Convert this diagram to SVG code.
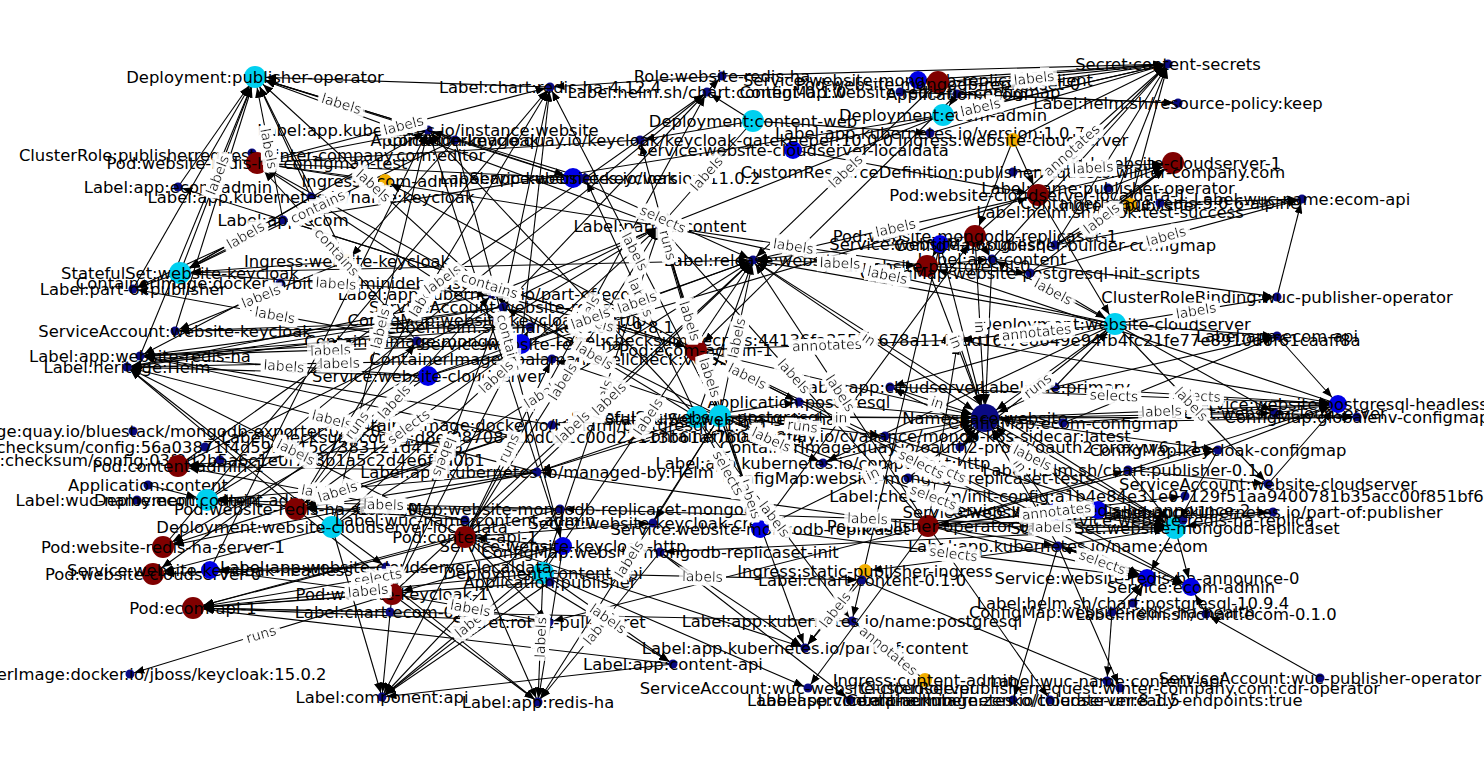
<svg xmlns="http://www.w3.org/2000/svg" width="1484" height="768" viewBox="0 0 1484 768">
<style>
.bg{fill:#fff}
.c path{stroke:#000;stroke-width:1.1;fill:none}
.ep path{marker-end:url(#mP)}
.es path{marker-end:url(#mS)}
.el path{marker-end:url(#mL)}
.ei path{marker-end:url(#mI)}
.eh path{marker-end:url(#mH)}
.pod{fill:#800000}
.dep{fill:#00d0f0}
.svc{fill:#0000e6}
.lbl{fill:#0a0a84}
.ing{fill:#f2ae00}
.hub{fill:#0a0a84}
.nt{font-family:"DejaVu Sans","Liberation Sans",sans-serif;font-size:16.4px;text-anchor:middle;dominant-baseline:central;fill:#000}
.lb{font-family:"DejaVu Sans","Liberation Sans",sans-serif;font-size:13.9px;fill:#222;text-anchor:middle;dominant-baseline:central;filter:url(#halo)}
</style>
<defs>
<filter id="halo" filterUnits="userSpaceOnUse" x="0" y="0" width="1484" height="768"><feMorphology in="SourceAlpha" operator="dilate" radius="4" result="d"/><feFlood flood-color="#ffffff"/><feComposite in2="d" operator="in" result="w"/><feMerge><feMergeNode in="w"/><feMergeNode in="SourceGraphic"/></feMerge></filter>
<marker id="mP" viewBox="0 0 10 8" refX="21" refY="4" markerWidth="10" markerHeight="8" markerUnits="userSpaceOnUse" orient="auto"><path d="M0,0L10,4L0,8z" fill="#000"/></marker>
<marker id="mS" viewBox="0 0 10 8" refX="19" refY="4" markerWidth="10" markerHeight="8" markerUnits="userSpaceOnUse" orient="auto"><path d="M0,0L10,4L0,8z" fill="#000"/></marker>
<marker id="mL" viewBox="0 0 10 8" refX="14.5" refY="4" markerWidth="10" markerHeight="8" markerUnits="userSpaceOnUse" orient="auto"><path d="M0,0L10,4L0,8z" fill="#000"/></marker>
<marker id="mI" viewBox="0 0 10 8" refX="17" refY="4" markerWidth="10" markerHeight="8" markerUnits="userSpaceOnUse" orient="auto"><path d="M0,0L10,4L0,8z" fill="#000"/></marker>
<marker id="mH" viewBox="0 0 10 8" refX="24" refY="4" markerWidth="10" markerHeight="8" markerUnits="userSpaceOnUse" orient="auto"><path d="M0,0L10,4L0,8z" fill="#000"/></marker>
<path id="l1" d="M255,77L428,130"/><path id="l2" d="M180,273L255,77"/><path id="l3" d="M255,77L283,220"/><path id="l4" d="M255,77L492,294"/><path id="l5" d="M180,273L311,197"/><path id="l6" d="M180,273L455,140"/><path id="l7" d="M257,163L417,341"/><path id="l8" d="M175,331L347,261"/><path id="l9" d="M140,356L521,344"/><path id="l10" d="M127,367L537,472"/><path id="l11" d="M127,367L465,537"/><path id="l12" d="M178,466L465,520"/><path id="l13" d="M207,500L560,509"/><path id="l14" d="M163,547L512,436"/><path id="l15" d="M193,608L563,546"/><path id="l16" d="M193,608L543,573"/><path id="l17" d="M130,674L392,594"/><path id="l18" d="M382,697L563,546"/><path id="l19" d="M538,702L543,573"/><path id="l20" d="M538,702L660,552"/><path id="l21" d="M543,573L673,664"/><path id="l22" d="M805,648L865,571"/><path id="l23" d="M852,621L925,680"/><path id="l24" d="M550,87L720,416"/><path id="l25" d="M296,509L550,87"/><path id="l26" d="M660,226L753,121"/><path id="l27" d="M720,416L753,260"/><path id="l28" d="M332,527L753,260"/><path id="l29" d="M492,294L696,350"/><path id="l30" d="M696,350L958,340"/><path id="l31" d="M696,350L799,402"/><path id="l32" d="M890,387L985,418"/><path id="l33" d="M697,417L985,418"/><path id="l34" d="M975,236L985,418"/><path id="l35" d="M753,260L985,418"/><path id="l36" d="M985,418L1055,512"/><path id="l37" d="M760,529L985,418"/><path id="l38" d="M753,260L927,266"/><path id="l39" d="M992,259L1115,324"/><path id="l40" d="M958,340L1115,324"/><path id="l41" d="M1055,387L1338,404"/><path id="l42" d="M890,387L1338,404"/><path id="l43" d="M1030,273L1302,199"/><path id="l44" d="M793,150L1168,64"/><path id="l45" d="M975,236L1168,64"/><path id="l46" d="M1013,172L1173,163"/><path id="l47" d="M928,526L1175,528"/><path id="l48" d="M1058,546L1147,578"/><path id="l49" d="M760,529L1147,578"/><path id="l50" d="M696,350L1191,587"/><path id="l51" d="M696,350L805,648"/><path id="l52" d="M697,417L852,621"/><path id="l53" d="M543,573L862,580"/><path id="l54" d="M573,178L753,260"/><path id="l55" d="M585,178L697,417"/><path id="l56" d="M332,527L428,130"/><path id="l57" d="M296,509L521,344"/><path id="l58" d="M455,140L563,546"/><path id="l59" d="M257,163L550,87"/><path id="l60" d="M178,466L707,92"/><path id="l61" d="M465,537L660,226"/><path id="l62" d="M720,416L823,463"/><path id="l63" d="M928,526L1185,496"/><path id="l64" d="M927,266L985,418"/><path id="l66" d="M1115,324L1277,297"/><path id="l67" d="M900,92L1168,64"/><path id="l68" d="M140,356L428,376"/><path id="l69" d="M127,367L552,359"/><path id="l70" d="M133,289L417,341"/><path id="l71" d="M560,509L1175,528"/><path id="l72" d="M720,416L1147,578"/><path id="l73" d="M985,418L1338,404"/><path id="l74" d="M538,702L720,416"/><path id="l75" d="M392,594L549,622"/><path id="l76" d="M697,417L760,529"/><path id="l77" d="M283,220L696,350"/><path id="l78" d="M497,320L392,594"/><path id="l80" d="M465,537L707,92"/><path id="l81" d="M543,573L660,226"/><path id="l82" d="M696,350L1147,578"/><path id="l83" d="M1030,273L1173,163"/><path id="l84" d="M1115,324L1268,484"/>
<path id="l85" d="M296,509L492,294"/><path id="l86" d="M332,527L660,226"/><path id="l87" d="M465,537L753,260"/><path id="l88" d="M543,573L753,260"/><path id="l89" d="M392,594L753,260"/><path id="l90" d="M660,226L720,416"/><path id="l91" d="M492,294L697,417"/><path id="l93" d="M660,226L927,266"/><path id="l94" d="M753,260L928,526"/><path id="l95" d="M660,226L760,529"/><path id="l96" d="M660,226L1115,324"/><path id="l97" d="M753,260L938,82"/><path id="l98" d="M753,260L1038,195"/><path id="l99" d="M180,273L492,294"/><path id="l100" d="M521,344L753,260"/><path id="l101" d="M428,376L753,260"/><path id="l102" d="M890,387L1175,528"/><path id="l103" d="M660,226L928,526"/><path id="l104" d="M720,416L885,436"/><path id="l105" d="M960,447L1115,324"/><path id="l106" d="M296,509L417,341"/><path id="l107" d="M465,537L552,359"/><path id="l108" d="M640,140L696,350"/>
</defs>
<rect class="bg" x="0" y="0" width="1484" height="768"/>
<g id="connectors" class="c">
<g class="ep">
<path d="M180 273L255 77"/><path d="M175 331L255 77"/><path d="M140 356L255 77"/><path d="M283 220L255 77"/><path d="M311 197L255 77"/><path d="M178 187L255 77"/><path d="M428 130L255 77"/><path d="M455 140L255 77"/><path d="M550 87L255 77"/><path d="M492 294L255 77"/><path d="M347 261L255 77"/><path d="M660 226L255 77"/><path d="M585 178L255 77"/><path d="M133 289L255 77"/>
<path d="M385 181L257 163"/><path d="M428 130L257 163"/><path d="M417 341L257 163"/><path d="M573 178L257 163"/><path d="M492 294L257 163"/><path d="M660 226L257 163"/><path d="M640 140L257 163"/><path d="M497 320L257 163"/>
<path d="M311 197L180 273"/><path d="M283 220L180 273"/><path d="M347 261L180 273"/><path d="M455 140L180 273"/>
<path d="M465 520L178 466"/><path d="M512 436L178 466"/><path d="M537 472L178 466"/>
<path d="M465 520L207 500"/><path d="M537 472L207 500"/><path d="M560 509L207 500"/><path d="M148 485L207 500"/>
<path d="M537 472L296 509"/><path d="M512 436L296 509"/><path d="M521 344L296 509"/><path d="M560 509L296 509"/>
<path d="M537 472L163 547"/><path d="M521 344L163 547"/><path d="M512 436L163 547"/>
<path d="M386 567L153 574"/><path d="M332 527L153 574"/><path d="M428 376L153 574"/>
<path d="M392 594L193 608"/><path d="M390 612L193 608"/><path d="M549 622L193 608"/><path d="M543 573L193 608"/><path d="M550 582L193 608"/><path d="M563 546L193 608"/><path d="M465 537L193 608"/><path d="M560 509L193 608"/><path d="M673 664L193 608"/><path d="M852 621L193 608"/>
<path d="M563 546L392 594"/><path d="M210 570L392 594"/>
<path d="M1013 172L1173 163"/><path d="M1108 188L1173 163"/><path d="M1110 210L1173 163"/><path d="M1038 195L1173 163"/><path d="M1055 245L1173 163"/><path d="M1030 273L1173 163"/>
<path d="M1055 387L1115 324"/><path d="M1030 273L1115 324"/><path d="M1038 195L1115 324"/>
<path d="M1055 512L1175 528"/><path d="M1098 510L1175 528"/><path d="M1058 546L1175 528"/><path d="M928 526L1175 528"/><path d="M1128 470L1175 528"/><path d="M1218 450L1175 528"/><path d="M1273 512L1175 528"/><path d="M908 478L1175 528"/><path d="M885 436L1175 528"/><path d="M985 418L1175 528"/>
<path d="M940 244L927 266"/><path d="M753 260L927 266"/><path d="M1338 404L927 266"/>
<path d="M760 529L975 236"/><path d="M1013 140L975 236"/>
<path d="M918 80L938 82"/>
<path d="M428 376L1038 195"/><path d="M793 150L1038 195"/><path d="M1013 140L1038 195"/>
<path d="M1055 512L928 526"/><path d="M957 94L943 115"/><path d="M563 546L465 537"/><path d="M957 94L696 350"/>
<path d="M283 220L696 350"/><path d="M497 320L392 594"/>
</g>
<g class="es">
<path d="M386 567L210 570"/><path d="M455 140L563 546"/><path d="M455 140L573 178"/>
<path d="M1058 546L1147 578"/><path d="M928 526L1147 578"/><path d="M1133 603L1147 578"/><path d="M1175 528L1147 578"/><path d="M1112 612L1147 578"/><path d="M760 529L1147 578"/><path d="M720 416L1147 578"/><path d="M696 350L1147 578"/>
<path d="M1058 546L1191 587"/><path d="M1175 528L1191 587"/><path d="M1206 614L1191 587"/><path d="M1055 512L1191 587"/><path d="M696 350L1191 587"/>
<path d="M1055 387L1338 404"/><path d="M1063 423L1338 404"/><path d="M985 418L1338 404"/><path d="M1275 413L1338 404"/><path d="M1218 450L1338 404"/><path d="M1128 470L1338 404"/><path d="M1277 336L1338 404"/><path d="M958 340L1338 404"/><path d="M890 387L1338 404"/><path d="M1268 484L1338 404"/>
<path d="M720 416L760 529"/><path d="M697 417L760 529"/>
</g>
<g class="ei">
<path d="M852 621L925 680"/><path d="M1055 245L1130 205"/><path d="M696 350L385 181"/><path d="M455 140L347 261"/><path d="M1058 546L865 571"/>
</g>
<g class="eh">
<path d="M890 387L985 418"/><path d="M958 340L985 418"/><path d="M1055 387L985 418"/><path d="M1063 423L985 418"/><path d="M885 436L985 418"/><path d="M960 447L985 418"/><path d="M823 463L985 418"/><path d="M908 478L985 418"/><path d="M928 526L985 418"/><path d="M799 402L985 418"/><path d="M697 417L985 418"/><path d="M720 416L985 418"/><path d="M696 350L985 418"/><path d="M753 260L985 418"/><path d="M992 259L985 418"/><path d="M927 266L985 418"/><path d="M975 236L985 418"/><path d="M940 244L985 418"/><path d="M1115 324L985 418"/><path d="M1055 512L985 418"/><path d="M1098 510L985 418"/><path d="M1058 546L985 418"/><path d="M760 529L985 418"/>
</g>
<g class="el">
<path d="M428 376L140 356"/><path d="M521 344L140 356"/><path d="M417 341L140 356"/><path d="M503 307L140 356"/><path d="M530 327L140 356"/><path d="M552 425L140 356"/><path d="M512 436L140 356"/><path d="M280 283L140 356"/>
<path d="M428 376L127 367"/><path d="M552 359L127 367"/><path d="M497 320L127 367"/><path d="M537 472L127 367"/><path d="M296 509L127 367"/><path d="M465 537L127 367"/><path d="M332 527L127 367"/><path d="M492 294L127 367"/><path d="M503 307L127 367"/>
<path d="M347 261L175 331"/><path d="M497 320L175 331"/><path d="M530 327L175 331"/>
<path d="M417 341L133 289"/><path d="M283 220L133 289"/><path d="M180 273L133 289"/>
<path d="M696 350L178 187"/><path d="M943 115L283 220"/>
<path d="M392 594L130 674"/>
<path d="M392 594L382 697"/><path d="M543 573L382 697"/><path d="M550 582L382 697"/><path d="M465 537L382 697"/><path d="M563 546L382 697"/><path d="M560 509L382 697"/><path d="M332 527L382 697"/><path d="M673 664L382 697"/>
<path d="M296 509L538 702"/><path d="M392 594L538 702"/><path d="M465 537L538 702"/><path d="M563 546L538 702"/><path d="M543 573L538 702"/><path d="M660 552L538 702"/><path d="M720 416L538 702"/>
<path d="M543 573L673 664"/><path d="M465 537L673 664"/>
<path d="M465 537L549 622"/><path d="M392 594L549 622"/><path d="M928 526L549 622"/>
<path d="M865 571L805 648"/><path d="M862 580L805 648"/><path d="M660 552L805 648"/><path d="M696 350L805 648"/><path d="M465 537L805 648"/>
<path d="M697 417L852 621"/><path d="M940 244L852 621"/>
<path d="M543 573L808 688"/><path d="M928 526L808 688"/><path d="M660 552L850 700"/><path d="M1058 546L1013 700"/><path d="M928 526L1050 700"/><path d="M1112 612L1107 681"/><path d="M1058 546L1120 688"/><path d="M862 580L1120 688"/><path d="M1320 678L1206 614"/>
<path d="M543 573L862 580"/>
<path d="M918 80L1168 64"/><path d="M938 82L1168 64"/><path d="M900 92L1168 64"/><path d="M957 94L1168 64"/><path d="M943 115L1168 64"/><path d="M722 76L1168 64"/><path d="M930 133L1168 64"/><path d="M1013 140L1168 64"/><path d="M793 150L1168 64"/><path d="M1038 195L1168 64"/><path d="M975 236L1168 64"/><path d="M1055 245L1168 64"/><path d="M992 259L1168 64"/><path d="M1110 210L1168 64"/><path d="M1130 205L1168 64"/>
<path d="M957 94L1178 103"/><path d="M900 92L1178 103"/>
<path d="M1055 245L1302 199"/><path d="M1030 273L1302 199"/><path d="M1277 297L1302 199"/><path d="M1160 203L1302 199"/>
<path d="M1115 324L1277 297"/><path d="M992 259L1277 297"/>
<path d="M1115 324L1277 336"/><path d="M1055 387L1277 336"/><path d="M1063 423L1277 336"/>
<path d="M1063 423L1357 417"/><path d="M985 418L1357 417"/><path d="M1275 413L1357 417"/>
<path d="M985 418L1275 413"/><path d="M1115 324L1275 413"/>
<path d="M985 418L1218 450"/><path d="M928 526L1218 450"/>
<path d="M1115 324L1268 484"/><path d="M1128 470L1268 484"/>
<path d="M928 526L1185 496"/><path d="M928 526L1273 512"/>
<path d="M257 163L550 87"/><path d="M720 416L550 87"/><path d="M521 344L550 87"/><path d="M503 307L550 87"/><path d="M722 76L550 87"/><path d="M296 509L550 87"/><path d="M163 547L550 87"/>
<path d="M503 307L722 76"/>
<path d="M753 121L707 92"/><path d="M465 537L707 92"/><path d="M178 466L707 92"/><path d="M207 500L707 92"/>
<path d="M753 121L660 226"/><path d="M543 573L660 226"/><path d="M207 500L660 226"/><path d="M465 537L660 226"/><path d="M178 466L660 226"/>
<path d="M720 416L753 260"/><path d="M697 417L753 260"/><path d="M332 527L753 260"/><path d="M180 273L753 260"/><path d="M1115 324L753 260"/><path d="M1175 528L753 260"/><path d="M975 236L753 260"/><path d="M573 178L753 260"/>
<path d="M697 417L585 178"/>
<path d="M180 273L428 130"/><path d="M332 527L428 130"/><path d="M210 570L428 130"/><path d="M563 546L428 130"/><path d="M573 178L428 130"/><path d="M697 417L428 130"/>
<path d="M696 350L492 294"/><path d="M943 115L492 294"/>
<path d="M696 350L958 340"/><path d="M1115 324L958 340"/><path d="M928 526L958 340"/>
<path d="M696 350L799 402"/><path d="M697 417L799 402"/>
<path d="M1115 324L890 387"/>
<path d="M1115 324L992 259"/><path d="M927 266L992 259"/><path d="M975 236L992 259"/>
<path d="M927 266L1030 273"/>
<path d="M720 416L823 463"/><path d="M1115 324L823 463"/>
<path d="M720 416L885 436"/><path d="M1115 324L960 447"/>
<path d="M1147 578L1058 546"/><path d="M928 526L1058 546"/><path d="M928 526L1128 470"/>
<path d="M753 121L930 133"/><path d="M753 121L640 140"/>
<path d="M720 416L552 425"/><path d="M720 416L537 472"/><path d="M697 417L537 472"/><path d="M928 526L537 472"/>
<path d="M1175 528L560 509"/><path d="M465 537L653 523"/><path d="M720 416L653 523"/><path d="M332 527L386 567"/><path d="M1175 528L660 552"/>
<path d="M720 416L552 359"/><path d="M392 594L530 327"/><path d="M720 416L503 307"/>
<path d="M296 509L492 294"/><path d="M332 527L660 226"/><path d="M465 537L753 260"/><path d="M543 573L753 260"/><path d="M392 594L753 260"/><path d="M720 416L660 226"/><path d="M697 417L492 294"/><path d="M696 350L660 226"/><path d="M927 266L660 226"/><path d="M928 526L753 260"/><path d="M760 529L660 226"/><path d="M1115 324L660 226"/><path d="M938 82L753 260"/><path d="M1038 195L753 260"/><path d="M180 273L492 294"/><path d="M521 344L753 260"/><path d="M428 376L753 260"/><path d="M1175 528L890 387"/><path d="M928 526L660 226"/><path d="M296 509L417 341"/><path d="M465 537L552 359"/><path d="M696 350L640 140"/>
</g>
</g>
<g id="nodes">
<g id="n-deploy-publisher-operator"><circle class="dep" cx="255" cy="77" r="11"/><text class="nt" x="255" y="77">Deployment:publisher-operator</text></g>
<g id="n-clusterrole-editor"><circle class="lbl" cx="252" cy="153" r="4.5"/><text class="nt" x="252" y="155">ClusterRole:publisherrequest:winter-company.com:editor</text></g>
<g id="n-pod-redis-test"><circle class="pod" cx="257" cy="163" r="11"/><text class="nt" x="257" y="163">Pod:website-redis-ha-configmap-test</text></g>
<g id="n-lbl-app-ecom-admin"><circle class="lbl" cx="178" cy="187" r="4.5"/><text class="nt" x="178" y="187">Label:app:ecom-admin</text></g>
<g id="n-lbl-name-keycloak"><circle class="lbl" cx="311" cy="197" r="4.5"/><text class="nt" x="311" y="197">Label:app.kubernetes.io/name:keycloak</text></g>
<g id="n-lbl-app-ecom"><circle class="lbl" cx="283" cy="220" r="4.5"/><text class="nt" x="283" y="220">Label:app:ecom</text></g>
<g id="n-ing-ecom-admin"><circle class="ing" cx="385" cy="181" r="7"/><text class="nt" x="385" y="181">Ingress:ecom-admin</text></g>
<g id="n-ing-website-keycloak"><circle class="ing" cx="347" cy="261" r="7"/><text class="nt" x="347" y="261">Ingress:website-keycloak</text></g>
<g id="n-sts-website-keycloak"><circle class="dep" cx="180" cy="273" r="11"/><text class="nt" x="180" y="273">StatefulSet:website-keycloak</text></g>
<g id="n-lbl-part-of-publisher"><circle class="lbl" cx="133" cy="289" r="4.5"/><text class="nt" x="133" y="289">Label:part-of:publisher</text></g>
<g id="n-img-minideb"><circle class="lbl" cx="280" cy="283" r="4.5"/><text class="nt" x="280" y="283">ContainerImage:docker.io/bitnami/minideb:buster</text></g>
<g id="n-sa-website-keycloak"><circle class="lbl" cx="175" cy="331" r="4.5"/><text class="nt" x="175" y="331">ServiceAccount:website-keycloak</text></g>
<g id="n-lbl-app-website-redis-ha"><circle class="lbl" cx="140" cy="356" r="4.5"/><text class="nt" x="140" y="356">Label:app:website-redis-ha</text></g>
<g id="n-lbl-heritage-helm"><circle class="lbl" cx="127" cy="367" r="4.5"/><text class="nt" x="127" y="367">Label:heritage:Helm</text></g>
<g id="n-img-quay-bluestack"><circle class="lbl" cx="133" cy="431" r="4.5"/><text class="nt" x="133" y="431">ContainerImage:quay.io/bluestack/mongodb-exporter:0.11.0</text></g>
<g id="n-lbl-checksum-56a"><circle class="lbl" cx="205" cy="447" r="4.5"/><text class="nt" x="205" y="447">Label:checksum/config:56a03871f4d59f3015c7383121d41205</text></g>
<g id="n-lbl-checksum-03f"><circle class="lbl" cx="220" cy="460" r="4.5"/><text class="nt" x="220" y="460">Label:checksum/config:03f9d2b5a6c1e0f7e8b1a5c2d4e6f8a0b1</text></g>
<g id="n-pod-content-admin-1"><circle class="pod" cx="178" cy="466" r="11"/><text class="nt" x="178" y="466">Pod:content-admin-1</text></g>
<g id="n-app-content"><circle class="lbl" cx="148" cy="485" r="4.5"/><text class="nt" x="148" y="485">Application:content</text></g>
<g id="n-lbl-wuc-ecom-admin"><circle class="lbl" cx="137" cy="500" r="4.5"/><text class="nt" x="137" y="500">Label:wuc-name:ecom-admin</text></g>
<g id="n-deploy-content-admin"><circle class="dep" cx="207" cy="500" r="11"/><text class="nt" x="207" y="500">Deployment:content-admin</text></g>
<g id="n-pod-redis-server-0"><circle class="pod" cx="296" cy="509" r="11"/><text class="nt" x="296" y="509">Pod:website-redis-ha-server-0</text></g>
<g id="n-deploy-cloudserver-localdata"><circle class="dep" cx="332" cy="527" r="11"/><text class="nt" x="332" y="527">Deployment:website-cloudserver-localdata</text></g>
<g id="n-pod-redis-server-1"><circle class="pod" cx="163" cy="547" r="11"/><text class="nt" x="163" y="547">Pod:website-redis-ha-server-1</text></g>
<g id="n-pod-cloudserver-0"><circle class="pod" cx="153" cy="574" r="11"/><text class="nt" x="153" y="574">Pod:website-cloudserver-0</text></g>
<g id="n-svc-keycloak-headless"><circle class="svc" cx="210" cy="570" r="9"/><text class="nt" x="210" y="570">Service:website-keycloak-headless</text></g>
<g id="n-pod-ecom-api-1"><circle class="pod" cx="193" cy="608" r="11"/><text class="nt" x="193" y="608">Pod:ecom-api-1</text></g>
<g id="n-img-keycloak"><circle class="lbl" cx="130" cy="674" r="4.5"/><text class="nt" x="130" y="674">ContainerImage:docker.io/jboss/keycloak:15.0.2</text></g>
<g id="n-pod-keycloak-1"><circle class="pod" cx="392" cy="594" r="11"/><text class="nt" x="392" y="594">Pod:website-keycloak-1</text></g>
<g id="n-lbl-chart-ecom"><circle class="lbl" cx="390" cy="612" r="4.5"/><text class="nt" x="390" y="612">Label:chart:ecom-0.1.0</text></g>
<g id="n-lbl-component-api"><circle class="lbl" cx="382" cy="697" r="4.5"/><text class="nt" x="382" y="697">Label:component:api</text></g>
<g id="n-lbl-app-redis-ha"><circle class="lbl" cx="538" cy="702" r="4.5"/><text class="nt" x="538" y="702">Label:app:redis-ha</text></g>
<g id="n-secret-robot"><circle class="lbl" cx="549" cy="622" r="4.5"/><text class="nt" x="549" y="622">Secret:robot-pull-secret</text></g>
<g id="n-deploy-content-api"><circle class="dep" cx="543" cy="573" r="11"/><text class="nt" x="543" y="573">Deployment:content-api</text></g>
<g id="n-app-publisher"><circle class="lbl" cx="550" cy="582" r="4.5"/><text class="nt" x="550" y="582">Application:publisher</text></g>
<g id="n-svc-keycloak-http"><circle class="svc" cx="563" cy="546" r="9"/><text class="nt" x="563" y="546">Service:website-keycloak-http</text></g>
<g id="n-cm-mongodb-init"><circle class="lbl" cx="660" cy="552" r="4.5"/><text class="nt" x="660" y="552">ConfigMap:website-mongodb-replicaset-init</text></g>
<g id="n-lbl-app-content-api"><circle class="lbl" cx="673" cy="664" r="4.5"/><text class="nt" x="673" y="664">Label:app:content-api</text></g>
<g id="n-lbl-partof-content"><circle class="lbl" cx="805" cy="648" r="4.5"/><text class="nt" x="805" y="648">Label:app.kubernetes.io/part-of:content</text></g>
<g id="n-lbl-name-postgresql"><circle class="lbl" cx="852" cy="621" r="4.5"/><text class="nt" x="852" y="621">Label:app.kubernetes.io/name:postgresql</text></g>
<g id="n-sa-wuc-website"><circle class="lbl" cx="808" cy="688" r="4.5"/><text class="nt" x="808" y="688">ServiceAccount:wuc-website-cloudserver</text></g>
<g id="n-ing-content-admin"><circle class="ing" cx="925" cy="680" r="7"/><text class="nt" x="925" y="680">Ingress:content-admin</text></g>
<g id="n-lbl-wuc-content-api"><circle class="lbl" cx="1107" cy="681" r="4.5"/><text class="nt" x="1107" y="681">Label:wuc-name:content-api</text></g>
<g id="n-clusterrole-cdr"><circle class="lbl" cx="1120" cy="688" r="4.5"/><text class="nt" x="1120" y="688">ClusterRole:publisherrequest:winter-company.com:cdr-operator</text></g>
<g id="n-lbl-app-content-admin"><circle class="lbl" cx="850" cy="700" r="4.5"/><text class="nt" x="850" y="700">Label:app:content-admin</text></g>
<g id="n-img-zenko"><circle class="lbl" cx="1013" cy="700" r="4.5"/><text class="nt" x="1013" y="700">ContainerImage:zenko/cloudserver:8.1.5</text></g>
<g id="n-lbl-tolerate"><circle class="lbl" cx="1050" cy="700" r="4.5"/><text class="nt" x="1030" y="700">Label:service.alpha.kubernetes.io/tolerate-unready-endpoints:true</text></g>
<g id="n-ing-static-publisher"><circle class="ing" cx="865" cy="571" r="7"/><text class="nt" x="865" y="571">Ingress:static-publisher-ingress</text></g>
<g id="n-lbl-chart-content"><circle class="lbl" cx="862" cy="580" r="4.5"/><text class="nt" x="862" y="580">Label:chart:content-0.1.0</text></g>
<g id="n-lbl-name-ecom"><circle class="lbl" cx="1058" cy="546" r="4.5"/><text class="nt" x="1058" y="546">Label:app.kubernetes.io/name:ecom</text></g>
<g id="n-svc-announce-0"><circle class="svc" cx="1147" cy="578" r="9"/><text class="nt" x="1147" y="578">Service:website-redis-ha-announce-0</text></g>
<g id="n-svc-ecom-admin"><circle class="svc" cx="1191" cy="587" r="9"/><text class="nt" x="1191" y="587">Service:ecom-admin</text></g>
<g id="n-lbl-chart-postgresql"><circle class="lbl" cx="1133" cy="603" r="4.5"/><text class="nt" x="1133" y="603">Label:helm.sh/chart:postgresql-10.9.4</text></g>
<g id="n-lbl-helm-chart-ecom"><circle class="lbl" cx="1206" cy="614" r="4.5"/><text class="nt" x="1206" y="614">Label:helm.sh/chart:ecom-0.1.0</text></g>
<g id="n-cm-redis-health"><circle class="lbl" cx="1112" cy="612" r="4.5"/><text class="nt" x="1112" y="612">ConfigMap:website-redis-ha-health</text></g>
<g id="n-sa-wuc-publisher"><circle class="lbl" cx="1320" cy="678" r="4.5"/><text class="nt" x="1320" y="678">ServiceAccount:wuc-publisher-operator</text></g>
<g id="n-sts-mongodb"><circle class="dep" cx="1175" cy="528" r="11"/><text class="nt" x="1175" y="528">StatefulSet:website-mongodb-replicaset</text></g>
<g id="n-svc-redis-replica"><circle class="lbl" cx="1183" cy="520" r="4.5"/><text class="nt" x="1183" y="520">Service:website-redis-ha-replica</text></g>
<g id="n-lbl-partof-publisher"><circle class="lbl" cx="1273" cy="512" r="4.5"/><text class="nt" x="1273" y="512">Label:app.kubernetes.io/part-of:publisher</text></g>
<g id="n-lbl-checksum-init"><circle class="lbl" cx="1185" cy="496" r="4.5"/><text class="nt" x="1185" y="496">Label:checksum/init-config:a1b4e84e31e07129f51aa9400781b35acc00f851bf6a5dfa0</text></g>
<g id="n-sa-cloudserver"><circle class="lbl" cx="1268" cy="484" r="4.5"/><text class="nt" x="1268" y="484">ServiceAccount:website-cloudserver</text></g>
<g id="n-lbl-chart-publisher"><circle class="lbl" cx="1128" cy="470" r="4.5"/><text class="nt" x="1128" y="470">Label:helm.sh/chart:publisher-0.1.0</text></g>
<g id="n-cm-keycloak"><circle class="lbl" cx="1218" cy="450" r="4.5"/><text class="nt" x="1218" y="450">ConfigMap:keycloak-configmap</text></g>
<g id="n-secret-cloudserver"><circle class="lbl" cx="1275" cy="413" r="4.5"/><text class="nt" x="1275" y="413">Secret:website-cloudserver</text></g>
<g id="n-svc-postgresql-headless"><circle class="svc" cx="1338" cy="404" r="9"/><text class="nt" x="1338" y="404">Service:website-postgresql-headless</text></g>
<g id="n-cm-globalenv"><circle class="lbl" cx="1357" cy="417" r="4.5"/><text class="nt" x="1357" y="417">ConfigMap:globalenv-configmap</text></g>
<g id="n-lbl-app-ecom-api"><circle class="lbl" cx="1277" cy="336" r="4.5"/><text class="nt" x="1277" y="336">Label:app:ecom-api</text></g>
<g id="n-crb-wuc-publisher"><circle class="lbl" cx="1277" cy="297" r="4.5"/><text class="nt" x="1277" y="297">ClusterRoleBinding:wuc-publisher-operator</text></g>
<g id="n-deploy-cloudserver"><circle class="dep" cx="1115" cy="324" r="11"/><text class="nt" x="1115" y="324">Deployment:website-cloudserver</text></g>
<g id="n-lbl-checksum-secrets"><circle class="lbl" cx="958" cy="340" r="4.5"/><text class="nt" x="958" y="340">Label:checksum/secrets:44136fa355b3678a1146ad16f7e8649e94fb4fc21fe77e8910d0f61caaff8a</text></g>
<g id="n-lbl-app-cloudserver"><circle class="lbl" cx="890" cy="387" r="4.5"/><text class="nt" x="890" y="387">Label:app:cloudserver</text></g>
<g id="n-lbl-role-primary"><circle class="lbl" cx="1055" cy="387" r="4.5"/><text class="nt" x="1055" y="387">Label:role:primary</text></g>
<g id="n-namespace"><circle class="hub" cx="985" cy="418" r="14"/><text class="nt" x="985" y="418">Namespace:website</text></g>
<g id="n-cm-ecom"><circle class="lbl" cx="1063" cy="423" r="4.5"/><text class="nt" x="1063" y="423">ConfigMap:ecom-configmap</text></g>
<g id="n-img-sidecar"><circle class="lbl" cx="885" cy="436" r="4.5"/><text class="nt" x="885" y="436">ContainerImage:quay.io/cvallance/mongo-k8s-sidecar:latest</text></g>
<g id="n-img-oauth2"><circle class="lbl" cx="960" cy="447" r="4.5"/><text class="nt" x="960" y="447">ContainerImage:quay.io/oauth2-proxy/oauth2-proxy:v6.1.1</text></g>
<g id="n-lbl-component-http"><circle class="lbl" cx="823" cy="463" r="4.5"/><text class="nt" x="823" y="463">Label:app.kubernetes.io/component:http</text></g>
<g id="n-cm-mongodb-tests"><circle class="lbl" cx="908" cy="478" r="4.5"/><text class="nt" x="908" y="478">ConfigMap:website-mongodb-replicaset-tests</text></g>
<g id="n-pod-publisher-operator"><circle class="pod" cx="928" cy="526" r="11"/><text class="nt" x="928" y="526">Pod:publisher-operator-0</text></g>
<g id="n-svc-announce-1"><circle class="svc" cx="1055" cy="512" r="9"/><text class="nt" x="1055" y="512">Service:website-redis-ha-announce-1</text></g>
<g id="n-svc-announce-2"><circle class="svc" cx="1098" cy="510" r="9"/><text class="nt" x="1098" y="510">Service:website-redis-ha-announce-2</text></g>
<g id="n-secret-content"><circle class="lbl" cx="1168" cy="64" r="4.5"/><text class="nt" x="1168" y="64">Secret:content-secrets</text></g>
<g id="n-lbl-resource-policy"><circle class="lbl" cx="1178" cy="103" r="4.5"/><text class="nt" x="1178" y="103">Label:helm.sh/resource-policy:keep</text></g>
<g id="n-pod-cloudserver-1"><circle class="pod" cx="1173" cy="163" r="11"/><text class="nt" x="1173" y="163">Pod:website-cloudserver-1</text></g>
<g id="n-crd-publisherrequests"><circle class="lbl" cx="1013" cy="172" r="4.5"/><text class="nt" x="1013" y="172">CustomResourceDefinition:publisherrequests.winter-company.com</text></g>
<g id="n-lbl-name-publisher-operator"><circle class="lbl" cx="1108" cy="188" r="4.5"/><text class="nt" x="1108" y="188">Label:name:publisher-operator</text></g>
<g id="n-pod-localdata-1"><circle class="pod" cx="1038" cy="195" r="11"/><text class="nt" x="1038" y="195">Pod:website-cloudserver-localdata-1</text></g>
<g id="n-ing-publisher"><circle class="ing" cx="1130" cy="205" r="7"/><text class="nt" x="1130" y="205">Ingress:publisher</text></g>
<g id="n-img-redis"><circle class="lbl" cx="1160" cy="203" r="4.5"/><text class="nt" x="1160" y="203">ContainerImage:redis:5.0.6-alpine</text></g>
<g id="n-lbl-hook"><circle class="lbl" cx="1110" cy="210" r="4.5"/><text class="nt" x="1110" y="212">Label:helm.sh/hook:test-success</text></g>
<g id="n-lbl-wuc-ecom-api"><circle class="lbl" cx="1302" cy="199" r="4.5"/><text class="nt" x="1302" y="199">Label:wuc-name:ecom-api</text></g>
<g id="n-pod-mongodb-1"><circle class="pod" cx="975" cy="236" r="11"/><text class="nt" x="975" y="236">Pod:website-mongodb-replicaset-1</text></g>
<g id="n-svc-postgresql"><circle class="svc" cx="940" cy="244" r="9"/><text class="nt" x="940" y="244">Service:website-postgresql</text></g>
<g id="n-cm-publisher-builder"><circle class="lbl" cx="1055" cy="245" r="4.5"/><text class="nt" x="1055" y="245">ConfigMap:publisher-builder-configmap</text></g>
<g id="n-lbl-app-content"><circle class="lbl" cx="992" cy="259" r="4.5"/><text class="nt" x="992" y="259">Label:app:content</text></g>
<g id="n-pod-postgresql-0"><circle class="pod" cx="927" cy="266" r="11"/><text class="nt" x="927" y="266">Pod:website-postgresql-0</text></g>
<g id="n-cm-postgresql-init"><circle class="lbl" cx="1030" cy="273" r="4.5"/><text class="nt" x="1030" y="273">ConfigMap:website-postgresql-init-scripts</text></g>
<g id="n-app-ecom"><circle class="lbl" cx="957" cy="94" r="4.5"/><text class="nt" x="957" y="94">Application:ecom</text></g>
<g id="n-svc-mongodb-client"><circle class="svc" cx="918" cy="80" r="9"/><text class="nt" x="918" y="80">Service:website-mongodb-replicaset-client</text></g>
<g id="n-pod-mongodb-0"><circle class="pod" cx="938" cy="82" r="11"/><text class="nt" x="938" y="84">Pod:website-mongodb-replicaset-0</text></g>
<g id="n-cm-redis-configmap"><circle class="lbl" cx="900" cy="92" r="4.5"/><text class="nt" x="900" y="92">ConfigMap:website-redis-ha-configmap</text></g>
<g id="n-deploy-ecom-admin"><circle class="dep" cx="943" cy="115" r="11"/><text class="nt" x="943" y="115">Deployment:ecom-admin</text></g>
<g id="n-lbl-version-107"><circle class="lbl" cx="930" cy="133" r="4.5"/><text class="nt" x="930" y="133">Label:app.kubernetes.io/version:1.0.7</text></g>
<g id="n-ing-cloudserver"><circle class="ing" cx="1013" cy="140" r="7"/><text class="nt" x="1013" y="140">Ingress:website-cloudserver</text></g>
<g id="n-svc-cloudserver-localdata"><circle class="svc" cx="793" cy="150" r="9"/><text class="nt" x="793" y="150">Service:website-cloudserver-localdata</text></g>
<g id="n-deploy-content-web"><circle class="dep" cx="753" cy="121" r="11"/><text class="nt" x="753" y="121">Deployment:content-web</text></g>
<g id="n-role-redis-ha"><circle class="lbl" cx="722" cy="76" r="4.5"/><text class="nt" x="722" y="76">Role:website-redis-ha</text></g>
<g id="n-lbl-chart-redis-ha"><circle class="lbl" cx="550" cy="87" r="4.5"/><text class="nt" x="550" y="87">Label:chart:redis-ha-4.12.4</text></g>
<g id="n-lbl-helm-chart-content"><circle class="lbl" cx="707" cy="92" r="4.5"/><text class="nt" x="707" y="92">Label:helm.sh/chart:content-0.1.0</text></g>
<g id="n-svc-keycloak"><circle class="svc" cx="573" cy="178" r="10"/><text class="nt" x="573" y="178">Service:website-keycloak</text></g>
<g id="n-lbl-version-11"><circle class="lbl" cx="585" cy="178" r="4.5"/><text class="nt" x="600" y="178">Label:app.kubernetes.io/version:11.0.2</text></g>
<g id="n-lbl-part-of-content"><circle class="lbl" cx="660" cy="226" r="4.5"/><text class="nt" x="660" y="226">Label:part-of:content</text></g>
<g id="n-lbl-release-website"><circle class="lbl" cx="753" cy="260" r="4.5"/><text class="nt" x="753" y="260">Label:release:website</text></g>
<g id="n-lbl-partof-ecom"><circle class="lbl" cx="492" cy="294" r="4.5"/><text class="nt" x="492" y="294">Label:app.kubernetes.io/part-of:ecom</text></g>
<g id="n-sa-redis-ha"><circle class="lbl" cx="503" cy="307" r="4.5"/><text class="nt" x="503" y="307">ServiceAccount:website-redis-ha</text></g>
<g id="n-cm-keycloak-startup"><circle class="lbl" cx="497" cy="320" r="4.5"/><text class="nt" x="497" y="320">ConfigMap:website-keycloak-startup</text></g>
<g id="n-lbl-chart-keycloak"><circle class="lbl" cx="530" cy="327" r="4.5"/><text class="nt" x="530" y="327">Label:helm.sh/chart:keycloak-9.8.1</text></g>
<g id="n-img-mongo"><circle class="lbl" cx="417" cy="341" r="4.5"/><text class="nt" x="417" y="341">ContainerImage:mongo:3.6</text></g>
<g id="n-svc-redis-ha"><circle class="svc" cx="521" cy="344" r="10"/><text class="nt" x="521" y="344">Service:website-redis-ha</text></g>
<g id="n-img-shellcheck"><circle class="lbl" cx="552" cy="359" r="4.5"/><text class="nt" x="552" y="359">ContainerImage:koalaman/shellcheck:v0.5.0</text></g>
<g id="n-svc-cloudserver"><circle class="svc" cx="428" cy="376" r="10"/><text class="nt" x="428" y="376">Service:website-cloudserver</text></g>
<g id="n-pod-ecom-admin-1"><circle class="pod" cx="696" cy="350" r="11"/><text class="nt" x="696" y="350">Pod:ecom-admin-1</text></g>
<g id="n-app-postgresql"><circle class="lbl" cx="799" cy="402" r="4.5"/><text class="nt" x="799" y="402">Application:postgresql</text></g>
<g id="n-sts-postgresql"><circle class="dep" cx="697" cy="417" r="11"/><text class="nt" x="697" y="417">StatefulSet:website-postgresql</text></g>
<g id="n-sts-redis-ha"><circle class="dep" cx="720" cy="416" r="11"/><text class="nt" x="720" y="419">StatefulSet:website-redis-ha</text></g>
<g id="n-img-postgresql"><circle class="lbl" cx="552" cy="425" r="4.5"/><text class="nt" x="552" y="425">ContainerImage:docker.io/bitnami/postgresql:11.9.0</text></g>
<g id="n-lbl-checksum-8ef"><circle class="lbl" cx="512" cy="436" r="4.5"/><text class="nt" x="512" y="437">Label:checksum/config:d8ef98708e1bd0b1c00d22113b61af760a3c2f4</text></g>
<g id="n-lbl-managed-by"><circle class="lbl" cx="537" cy="472" r="4.5"/><text class="nt" x="537" y="472">Label:app.kubernetes.io/managed-by:Helm</text></g>
<g id="n-cm-mongodb-mongodb"><circle class="lbl" cx="560" cy="509" r="4.5"/><text class="nt" x="560" y="509">ConfigMap:website-mongodb-replicaset-mongodb</text></g>
<g id="n-lbl-wuc-content-admin"><circle class="lbl" cx="465" cy="520" r="4.5"/><text class="nt" x="465" y="520">Label:wuc-name:content-admin</text></g>
<g id="n-pod-content-api-1"><circle class="pod" cx="465" cy="537" r="11"/><text class="nt" x="465" y="537">Pod:content-api-1</text></g>
<g id="n-secret-keycloak-creds"><circle class="lbl" cx="653" cy="523" r="4.5"/><text class="nt" x="653" y="523">Secret:website-keycloak-creds</text></g>
<g id="n-svc-mongodb"><circle class="svc" cx="760" cy="529" r="9"/><text class="nt" x="760" y="529">Service:website-mongodb-replicaset</text></g>
<g id="n-lbl-app-cloudserver-localdata"><circle class="lbl" cx="386" cy="567" r="4.5"/><text class="nt" x="386" y="567">Label:app:website-cloudserver-localdata</text></g>
<g id="n-lbl-instance-website"><circle class="lbl" cx="428" cy="130" r="4.5"/><text class="nt" x="428" y="130">Label:app.kubernetes.io/instance:website</text></g>
<g id="n-app-keycloak"><circle class="lbl" cx="455" cy="140" r="4.5"/><text class="nt" x="455" y="140">Application:keycloak</text></g>
<g id="n-img-gatekeeper"><circle class="lbl" cx="640" cy="140" r="4.5"/><text class="nt" x="640" y="140">ContainerImage:quay.io/keycloak/keycloak-gatekeeper:10.0.0</text></g>
</g>
<g id="edge-labels">
<text class="lb"><textPath href="#l1" startOffset="50%">labels</textPath></text>
<text class="lb"><textPath href="#l2" startOffset="50%">labels</textPath></text>
<text class="lb"><textPath href="#l3" startOffset="50%">labels</textPath></text>
<text class="lb"><textPath href="#l4" startOffset="50%">labels</textPath></text>
<text class="lb"><textPath href="#l5" startOffset="50%">labels</textPath></text>
<text class="lb"><textPath href="#l6" startOffset="50%">contains</textPath></text>
<text class="lb"><textPath href="#l7" startOffset="50%">contains</textPath></text>
<text class="lb"><textPath href="#l8" startOffset="50%">labels</textPath></text>
<text class="lb"><textPath href="#l9" startOffset="50%">labels</textPath></text>
<text class="lb"><textPath href="#l10" startOffset="50%">labels</textPath></text>
<text class="lb"><textPath href="#l11" startOffset="50%">labels</textPath></text>
<text class="lb"><textPath href="#l12" startOffset="50%">labels</textPath></text>
<text class="lb"><textPath href="#l13" startOffset="50%">labels</textPath></text>
<text class="lb"><textPath href="#l14" startOffset="50%">labels</textPath></text>
<text class="lb"><textPath href="#l15" startOffset="50%">selects</textPath></text>
<text class="lb"><textPath href="#l16" startOffset="50%">labels</textPath></text>
<text class="lb"><textPath href="#l17" startOffset="50%">runs</textPath></text>
<text class="lb"><textPath href="#l18" startOffset="50%">labels</textPath></text>
<text class="lb"><textPath href="#l19" startOffset="50%">labels</textPath></text>
<text class="lb"><textPath href="#l20" startOffset="50%">labels</textPath></text>
<text class="lb"><textPath href="#l21" startOffset="50%">labels</textPath></text>
<text class="lb"><textPath href="#l22" startOffset="50%">labels</textPath></text>
<text class="lb"><textPath href="#l23" startOffset="50%">annotates</textPath></text>
<text class="lb"><textPath href="#l24" startOffset="50%">labels</textPath></text>
<text class="lb"><textPath href="#l25" startOffset="50%">labels</textPath></text>
<text class="lb"><textPath href="#l26" startOffset="50%">labels</textPath></text>
<text class="lb"><textPath href="#l27" startOffset="50%">labels</textPath></text>
<text class="lb"><textPath href="#l28" startOffset="50%">labels</textPath></text>
<text class="lb"><textPath href="#l29" startOffset="50%">labels</textPath></text>
<text class="lb"><textPath href="#l30" startOffset="50%">annotates</textPath></text>
<text class="lb"><textPath href="#l31" startOffset="50%">labels</textPath></text>
<text class="lb"><textPath href="#l32" startOffset="50%">in</textPath></text>
<text class="lb"><textPath href="#l33" startOffset="50%">in</textPath></text>
<text class="lb"><textPath href="#l34" startOffset="50%">in</textPath></text>
<text class="lb"><textPath href="#l35" startOffset="50%">in</textPath></text>
<text class="lb"><textPath href="#l36" startOffset="50%">in</textPath></text>
<text class="lb"><textPath href="#l37" startOffset="50%">in</textPath></text>
<text class="lb"><textPath href="#l38" startOffset="50%">labels</textPath></text>
<text class="lb"><textPath href="#l39" startOffset="50%">labels</textPath></text>
<text class="lb"><textPath href="#l40" startOffset="50%">annotates</textPath></text>
<text class="lb"><textPath href="#l41" startOffset="50%">selects</textPath></text>
<text class="lb"><textPath href="#l42" startOffset="50%">selects</textPath></text>
<text class="lb"><textPath href="#l43" startOffset="50%">labels</textPath></text>
<text class="lb"><textPath href="#l44" startOffset="50%">labels</textPath></text>
<text class="lb"><textPath href="#l45" startOffset="50%">annotates</textPath></text>
<text class="lb"><textPath href="#l46" startOffset="50%">labels</textPath></text>
<text class="lb"><textPath href="#l47" startOffset="50%">labels</textPath></text>
<text class="lb"><textPath href="#l48" startOffset="50%">selects</textPath></text>
<text class="lb"><textPath href="#l49" startOffset="50%">selects</textPath></text>
<text class="lb"><textPath href="#l50" startOffset="50%">selects</textPath></text>
<text class="lb"><textPath href="#l51" startOffset="50%">labels</textPath></text>
<text class="lb"><textPath href="#l52" startOffset="50%">labels</textPath></text>
<text class="lb"><textPath href="#l53" startOffset="50%">labels</textPath></text>
<text class="lb"><textPath href="#l54" startOffset="50%">selects</textPath></text>
<text class="lb"><textPath href="#l55" startOffset="50%">labels</textPath></text>
<text class="lb"><textPath href="#l56" startOffset="50%">labels</textPath></text>
<text class="lb"><textPath href="#l57" startOffset="50%">selects</textPath></text>
<text class="lb"><textPath href="#l58" startOffset="50%">contains</textPath></text>
<text class="lb"><textPath href="#l59" startOffset="50%">labels</textPath></text>
<text class="lb"><textPath href="#l60" startOffset="50%">labels</textPath></text>
<text class="lb"><textPath href="#l61" startOffset="50%">labels</textPath></text>
<text class="lb"><textPath href="#l62" startOffset="50%">labels</textPath></text>
<text class="lb"><textPath href="#l63" startOffset="50%">annotates</textPath></text>
<text class="lb"><textPath href="#l64" startOffset="50%">in</textPath></text>
<text class="lb"><textPath href="#l66" startOffset="50%">labels</textPath></text>
<text class="lb"><textPath href="#l67" startOffset="50%">labels</textPath></text>
<text class="lb"><textPath href="#l68" startOffset="50%">labels</textPath></text>
<text class="lb"><textPath href="#l69" startOffset="50%">labels</textPath></text>
<text class="lb"><textPath href="#l70" startOffset="50%">labels</textPath></text>
<text class="lb"><textPath href="#l71" startOffset="50%">labels</textPath></text>
<text class="lb"><textPath href="#l72" startOffset="50%">selects</textPath></text>
<text class="lb"><textPath href="#l73" startOffset="50%">labels</textPath></text>
<text class="lb"><textPath href="#l74" startOffset="50%">labels</textPath></text>
<text class="lb"><textPath href="#l75" startOffset="50%">labels</textPath></text>
<text class="lb"><textPath href="#l76" startOffset="50%">selects</textPath></text>
<text class="lb"><textPath href="#l77" startOffset="50%">contains</textPath></text>
<text class="lb"><textPath href="#l78" startOffset="50%">labels</textPath></text>
<text class="lb"><textPath href="#l80" startOffset="50%">labels</textPath></text>
<text class="lb"><textPath href="#l81" startOffset="50%">labels</textPath></text>
<text class="lb"><textPath href="#l82" startOffset="50%">selects</textPath></text>
<text class="lb"><textPath href="#l83" startOffset="50%">labels</textPath></text>
<text class="lb"><textPath href="#l84" startOffset="50%">labels</textPath></text>
<text class="lb"><textPath href="#l85" startOffset="50%">labels</textPath></text>
<text class="lb"><textPath href="#l86" startOffset="50%">labels</textPath></text>
<text class="lb"><textPath href="#l87" startOffset="50%">labels</textPath></text>
<text class="lb"><textPath href="#l88" startOffset="50%">labels</textPath></text>
<text class="lb"><textPath href="#l89" startOffset="50%">labels</textPath></text>
<text class="lb"><textPath href="#l90" startOffset="50%">labels</textPath></text>
<text class="lb"><textPath href="#l91" startOffset="50%">labels</textPath></text>
<text class="lb"><textPath href="#l93" startOffset="50%">labels</textPath></text>
<text class="lb"><textPath href="#l94" startOffset="50%">labels</textPath></text>
<text class="lb"><textPath href="#l95" startOffset="50%">labels</textPath></text>
<text class="lb"><textPath href="#l96" startOffset="50%">labels</textPath></text>
<text class="lb"><textPath href="#l97" startOffset="50%">labels</textPath></text>
<text class="lb"><textPath href="#l98" startOffset="50%">labels</textPath></text>
<text class="lb"><textPath href="#l99" startOffset="50%">labels</textPath></text>
<text class="lb"><textPath href="#l100" startOffset="50%">labels</textPath></text>
<text class="lb"><textPath href="#l101" startOffset="50%">labels</textPath></text>
<text class="lb"><textPath href="#l102" startOffset="50%">labels</textPath></text>
<text class="lb"><textPath href="#l103" startOffset="50%">labels</textPath></text>
<text class="lb"><textPath href="#l104" startOffset="50%">runs</textPath></text>
<text class="lb"><textPath href="#l105" startOffset="50%">runs</textPath></text>
<text class="lb"><textPath href="#l106" startOffset="50%">runs</textPath></text>
<text class="lb"><textPath href="#l107" startOffset="50%">runs</textPath></text>
<text class="lb"><textPath href="#l108" startOffset="50%">runs</textPath></text>
</g>
</svg>
